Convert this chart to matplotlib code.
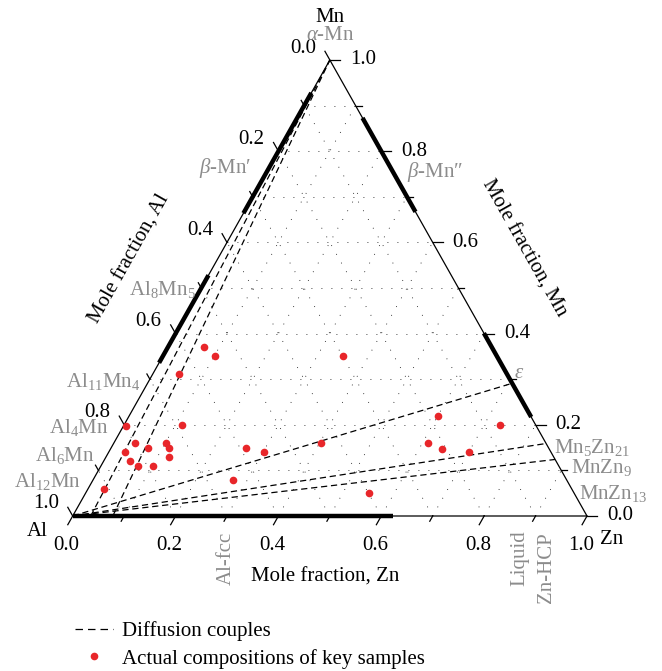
import numpy as np
import matplotlib.pyplot as plt
from matplotlib.lines import Line2D

plt.rcParams['font.family'] = 'Liberation Serif'
plt.rcParams['mathtext.fontset'] = 'custom'
plt.rcParams['mathtext.rm'] = 'Liberation Serif'
plt.rcParams['mathtext.it'] = 'Liberation Serif:italic'

# key sample compositions (mole fraction Zn, Mn)
sample_zn = [0.070, 0.101, 0.051, 0.005, 0.112, 0.042, 0.031, 0.071, 0.101,
             0.112, 0.051, 0.071, 0.102, 0.122, 0.031, 0.261, 0.272, 0.351,
             0.302, 0.403, 0.551, 0.600, 0.612, 0.645, 0.701, 0.731]
sample_mn = [0.371, 0.351, 0.311, 0.198, 0.200, 0.159, 0.140, 0.150, 0.159,
             0.149, 0.120, 0.110, 0.110, 0.130, 0.060, 0.150, 0.080, 0.350,
             0.140, 0.159, 0.050, 0.220, 0.159, 0.148, 0.140, 0.200]

# diffusion couples, end members (Zn, Mn)
couple_a_zn = [0.035, 0.078, 0.0, 0.0, 0.0]
couple_a_mn = [0.0, 0.0, 0.0, 0.0, 0.0]
couple_b_zn = [0.0, 0.0, 0.709, 0.841, 0.876]
couple_b_mn = [1.0, 1.0, 0.291, 0.159, 0.124]

# single phase ranges on the binary edges
alzn_zn = [(0.0, 0.623)]
almn_mn = [(0.664, 0.928), (0.336, 0.528)]
mnzn_mn = [(0.667, 0.873), (0.217, 0.401)]

ticks = np.round(np.arange(0, 1.01, 0.1), 1)

H = 456 / 514.3
S = 514.3  # pixels per unit
FS = 15


def tern(zn, mn):
    zn = np.asarray(zn, float)
    mn = np.asarray(mn, float)
    return zn + mn / 2, mn * H


def px(x, y):
    return (x - 72.7) / S, (516 - y) / S


fig = plt.figure(figsize=(6.62, 6.71), dpi=100)
ax = fig.add_axes([0, 0, 1, 1])
ax.set_xlim(-72.7 / S, (662 - 72.7) / S)
ax.set_ylim((516 - 671) / S, 516 / S)
ax.axis('off')

# dotted grid
for t in ticks[1:-1]:
    for a, b in [((0, t), (1 - t, t)), ((t, 0), (t, 1 - t)), ((1 - t, 0), (0, 1 - t))]:
        x, y = tern([a[0], b[0]], [a[1], b[1]])
        ax.plot(x, y, color='black', lw=0.6, ls=(0, (1, 11)))

# triangle
x, y = tern([0, 1, 0, 0], [0, 0, 1, 0])
ax.plot(x, y, color='black', lw=0.9, solid_joinstyle='miter')

# thick single phase ranges
for z0, z1 in alzn_zn:
    x, y = tern([z0, z1], [0, 0])
    ax.plot(x, y, color='black', lw=3.2, solid_capstyle='butt')
for m0, m1 in almn_mn:
    x, y = tern([0, 0], [m0, m1])
    ax.plot(x, y, color='black', lw=3.2, solid_capstyle='butt')
for m0, m1 in mnzn_mn:
    x, y = tern([1 - m0, 1 - m1], [m0, m1])
    ax.plot(x, y, color='black', lw=3.2, solid_capstyle='butt')

# ticks and tick labels
d_left = np.array([-0.5, -H]) / np.hypot(0.5, H)   # bottom ticks
d_up = np.array([-0.5, H]) / np.hypot(0.5, H)      # left ticks
for i, t in enumerate(ticks):
    L = (10 if i % 2 == 0 else 6) / S
    # bottom (Zn)
    p = np.array(tern(t, 0))
    ax.plot([p[0], p[0] + L * d_left[0]], [p[1], p[1] + L * d_left[1]], color='black', lw=0.9)
    if i % 2 == 0:
        ax.text(p[0] - 6 / S, p[1] - 30 / S, f'{t:.1f}', ha='center', va='center', fontsize=FS)
    # left (Al)
    p = np.array(tern(0, 1 - t))
    ax.plot([p[0], p[0] + L * d_up[0]], [p[1], p[1] + L * d_up[1]], color='black', lw=0.9)
    if i % 2 == 0:
        ax.text(p[0] - 27 / S, p[1] + 12 / S, f'{t:.1f}', ha='center', va='center', fontsize=FS)
    # right (Mn)
    p = np.array(tern(1 - t, t))
    ax.plot([p[0], p[0] + L], [p[1], p[1]], color='black', lw=0.9)
    if i % 2 == 0:
        ax.text(p[0] + 20 / S, p[1], f'{t:.1f}', ha='left', va='center', fontsize=FS)

# diffusion couples
for za, ma, zb, mb in zip(couple_a_zn, couple_a_mn, couple_b_zn, couple_b_mn):
    x, y = tern([za, zb], [ma, mb])
    ax.plot(x, y, color='black', lw=0.9, ls=(0, (5, 3)))

# samples
x, y = tern(sample_zn, sample_mn)
ax.plot(x, y, 'o', color='#e8262a', ms=5.5, mec='none', zorder=5)

# corner and axis titles
ang = np.degrees(np.arctan2(456, 257.3))
ax.text(*px(330, 18), 'Mn', ha='center', va='center', fontsize=FS)
ax.text(*px(37, 531), 'Al', ha='center', va='center', fontsize=FS)
ax.text(*px(612, 540), 'Zn', ha='center', va='center', fontsize=FS)
ax.text(*px(130, 259), 'Mole fraction, Al', rotation=ang, ha='center', va='center',
        fontsize=FS, rotation_mode='anchor')
ax.text(*px(524, 248), 'Mole fraction, Mn', rotation=-ang, ha='center', va='center',
        fontsize=FS, rotation_mode='anchor')
ax.text(*px(325, 577), 'Mole fraction, Zn', ha='center', va='center', fontsize=FS)

# phase labels
g = '#8c8c8c'
ax.text(*px(330, 36), r'$\alpha$-Mn', ha='center', va='center', fontsize=FS, color=g)
ax.text(*px(251, 168), r'$\beta$-Mn′', ha='right', va='center', fontsize=FS, color=g)
ax.text(*px(407, 172), r'$\beta$-Mn″', ha='left', va='center', fontsize=FS, color=g)
ax.text(*px(196, 290), r'Al$_8$Mn$_5$', ha='right', va='center', fontsize=FS, color=g)
ax.text(*px(140, 382), r'Al$_{11}$Mn$_4$', ha='right', va='center', fontsize=FS, color=g)
ax.text(*px(109, 428), r'Al$_4$Mn', ha='right', va='center', fontsize=FS, color=g)
ax.text(*px(95, 455), r'Al$_6$Mn', ha='right', va='center', fontsize=FS, color=g)
ax.text(*px(81, 481), r'Al$_{12}$Mn', ha='right', va='center', fontsize=FS, color=g)
ax.text(*px(519, 373), r'$\varepsilon$', ha='center', va='center', fontsize=FS, color=g)
ax.text(*px(554, 448), r'Mn$_5$Zn$_{21}$', ha='left', va='center', fontsize=FS, color=g)
ax.text(*px(571, 468), r'MnZn$_9$', ha='left', va='center', fontsize=FS, color=g)
ax.text(*px(579, 494), r'MnZn$_{13}$', ha='left', va='center', fontsize=FS, color=g)
ax.text(*px(226, 558), 'Al-fcc', rotation=90, ha='center', va='center', fontsize=FS, color=g)
ax.text(*px(520, 558), 'Liquid', rotation=90, ha='center', va='center', fontsize=FS, color=g)
ax.text(*px(546, 568), 'Zn-HCP', rotation=90, ha='center', va='center', fontsize=FS, color=g)

# legend
handles = [Line2D([], [], color='black', lw=0.9, ls=(0, (6, 4))),
           Line2D([], [], marker='o', ls='none', color='#e8262a', ms=5.5, mec='none')]
ax.legend(handles, ['Diffusion couples', 'Actual compositions of key samples'],
          loc='upper left', bbox_to_anchor=(75 / 662, 1 - 621 / 671), frameon=False,
          fontsize=FS, handlelength=1.8, handletextpad=0.45, labelspacing=0.38,
          borderpad=0, borderaxespad=0)

fig.savefig('out.png', dpi=100)
